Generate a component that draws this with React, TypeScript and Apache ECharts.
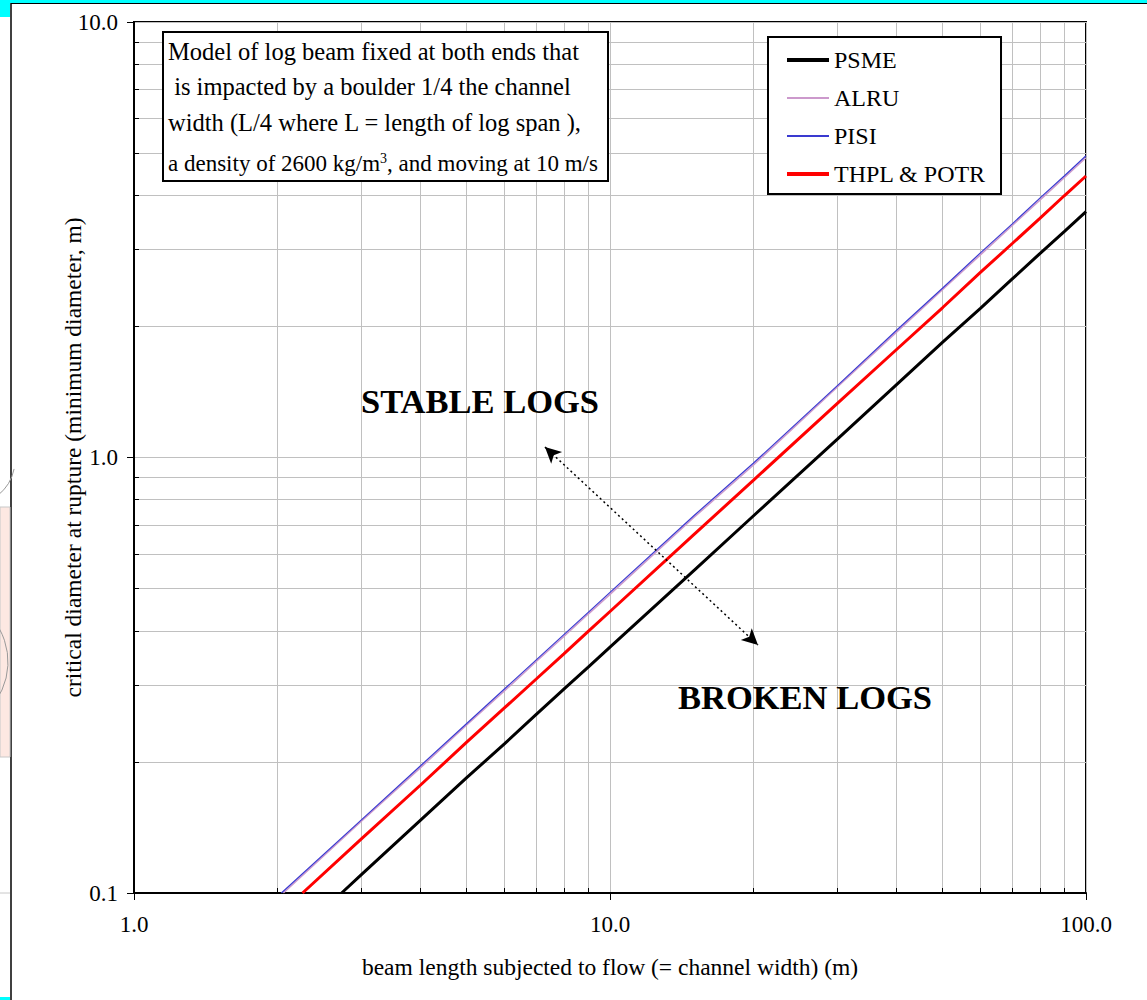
import React, { useEffect, useRef } from "react";
import * as echarts from "echarts";

// ---- data ----
const psmeL = [2.73, 3, 4, 5, 6, 7, 8, 9, 10, 15, 20, 30, 40, 50, 60, 70, 80, 90, 100];
const psmeD = [0.1, 0.11, 0.147, 0.184, 0.22, 0.257, 0.294, 0.33, 0.367, 0.55, 0.734, 1.1, 1.47, 1.84, 2.2, 2.57, 2.94, 3.3, 3.67];

const alruL = [2.06, 3, 4, 5, 6, 7, 8, 9, 10, 15, 20, 30, 40, 50, 60, 70, 80, 90, 100];
const alruD = [0.1, 0.146, 0.194, 0.243, 0.291, 0.34, 0.388, 0.437, 0.485, 0.728, 0.96, 1.45, 1.94, 2.43, 2.92, 3.41, 3.9, 4.39, 4.88];

const pisiL = [2.04, 3, 4, 5, 6, 7, 8, 9, 10, 15, 20, 30, 40, 50, 60, 70, 80, 90, 100];
const pisiD = [0.1, 0.147, 0.196, 0.245, 0.294, 0.343, 0.392, 0.441, 0.49, 0.735, 0.97, 1.46, 1.96, 2.45, 2.95, 3.44, 3.94, 4.43, 4.93];

const thplL = [2.26, 3, 4, 5, 6, 7, 8, 9, 10, 15, 20, 30, 40, 50, 60, 70, 80, 90, 100];
const thplD = [0.1, 0.133, 0.177, 0.222, 0.266, 0.31, 0.354, 0.399, 0.443, 0.665, 0.886, 1.33, 1.77, 2.21, 2.66, 3.1, 3.54, 3.99, 4.43];

const seriesNames = ["PSME", "ALRU", "PISI", "THPL & POTR"];
const seriesColors = ["#000000", "#cc99cc", "#3a3ad0", "#ff0000"];
const seriesWidths = [3, 1.5, 1.2, 3];
const legendWidths = [4, 2, 2, 4];

// arrow between the two region labels (data coordinates)
const arrowStart = [7.3, 1.057];
const arrowEnd = [20.46, 0.371];

const xTitle = "beam length subjected to flow (= channel width) (m)";
const yTitle = "critical diameter at rupture (minimum diameter, m)";
const noteLines = [
  "Model of log beam fixed at both ends that",
  " is impacted by a boulder 1/4 the channel",
  "width (L/4 where L = length of log span ),",
  "a density of 2600 kg/m{sup|3}, and moving at 10 m/s",
];

const FONT = "'Liberation Serif', 'Times New Roman', serif";

function pairs(xs: number[], ys: number[]) {
  return xs.map((x, i) => [x, ys[i]]);
}

export default function App() {
  const ref = useRef<HTMLDivElement>(null);

  useEffect(() => {
    if (!ref.current) return;
    const chart = echarts.init(ref.current, null, { renderer: "svg" });

    const fmt = (v: number) => Number(v).toFixed(1);

    const noteY = [51, 86, 122, 163];
    const noteSize = [24.5, 24.5, 24.5, 23];

    const seriesData = [
      pairs(psmeL, psmeD),
      pairs(alruL, alruD),
      pairs(pisiL, pisiD),
      pairs(thplL, thplD),
    ];

    const series: any[] = seriesNames.map((name, i) => ({
      name,
      type: "line",
      data: seriesData[i],
      symbol: "none",
      lineStyle: { color: seriesColors[i], width: seriesWidths[i] },
      itemStyle: { color: seriesColors[i] },
    }));
    series[3].markLine = {
      silent: true,
      symbol: ["arrow", "arrow"],
      symbolSize: [12, 16],
      label: { show: false },
      lineStyle: { color: "#000", type: [2, 3], width: 1.5 },
      data: [[{ coord: arrowStart }, { coord: arrowEnd }]],
    };

    const option: any = {
      animation: false,
      backgroundColor: "#ffffff",
      textStyle: { fontFamily: FONT },
      grid: {
        left: 134,
        right: 61,
        top: 22,
        bottom: 107,
        show: true,
        borderColor: "#000",
        borderWidth: 2,
        backgroundColor: "#fff",
      },
      legend: {
        data: seriesNames.map((name, i) => ({
          name,
          itemStyle: { opacity: 0 },
          lineStyle: { color: seriesColors[i], width: legendWidths[i] },
        })),
        orient: "vertical",
        left: 768,
        top: 37,
        padding: [11, 15, 8, 17],
        itemGap: 14,
        itemWidth: 42,
        itemHeight: 14,
        backgroundColor: "#fff",
        borderColor: "#000",
        borderWidth: 2,
        borderRadius: 0,
        textStyle: { fontFamily: FONT, fontSize: 24, color: "#000" },
        selectedMode: false,
      },
      xAxis: [
        {
          type: "log",
          logBase: 10,
          min: 1,
          max: 100,
          name: xTitle,
          nameLocation: "middle",
          nameGap: 62,
          nameTextStyle: { fontFamily: FONT, fontSize: 23.5, color: "#000" },
          axisLine: { show: true, lineStyle: { color: "#000", width: 2 } },
          axisTick: { show: true, inside: false, length: 7, lineStyle: { color: "#000", width: 1 } },
          minorTick: { show: false, splitNumber: 9 },
          axisLabel: { formatter: fmt, fontFamily: FONT, fontSize: 23, color: "#000", margin: 20 },
          splitLine: { show: true, lineStyle: { color: "#c0c0c0", width: 1 } },
          minorSplitLine: { show: true, lineStyle: { color: "#c0c0c0", width: 1 } },
        },
        {
          type: "log",
          logBase: 10,
          min: 1,
          max: 100,
          position: "bottom",
          axisLine: { show: false },
          axisTick: { show: false, inside: true },
          minorTick: { show: true, splitNumber: 9, length: 5, lineStyle: { color: "#000", width: 1 } },
          axisLabel: { show: false },
          splitLine: { show: false },
        },
      ],
      yAxis: [
        {
          type: "log",
          logBase: 10,
          min: 0.1,
          max: 10,
          name: yTitle,
          nameLocation: "middle",
          nameGap: 49,
          nameMoveOverlap: false,
          nameRotate: 90,
          nameTextStyle: { fontFamily: FONT, fontSize: 23.5, color: "#000" },
          axisLine: { show: true, lineStyle: { color: "#000", width: 2 } },
          axisTick: { show: true, inside: false, length: 7, lineStyle: { color: "#000", width: 1 } },
          minorTick: { show: false, splitNumber: 9 },
          axisLabel: { formatter: fmt, fontFamily: FONT, fontSize: 23, color: "#000", margin: 16 },
          splitLine: { show: true, lineStyle: { color: "#c0c0c0", width: 1 } },
          minorSplitLine: { show: true, lineStyle: { color: "#c0c0c0", width: 1 } },
        },
        {
          type: "log",
          logBase: 10,
          min: 0.1,
          max: 10,
          position: "left",
          axisLine: { show: false },
          axisTick: { show: false, inside: true },
          minorTick: { show: true, splitNumber: 9, length: 5, lineStyle: { color: "#000", width: 1 } },
          axisLabel: { show: false },
          splitLine: { show: false },
        },
      ],
      series,
      graphic: [
        // page-edge remnants in the reference screenshot
        { type: "rect", shape: { x: 0, y: 0, width: 1147, height: 3 }, style: { fill: "#00ffff" }, z: 100 },
        { type: "rect", shape: { x: 0, y: 0, width: 10, height: 17 }, style: { fill: "#00ffff" }, z: 100 },
        { type: "rect", shape: { x: 0, y: 997, width: 10, height: 3 }, style: { fill: "#00ffff" }, z: 100 },
        { type: "line", shape: { x1: 11, y1: 3.5, x2: 1147, y2: 3.5 }, style: { stroke: "#000", lineWidth: 1 }, z: 100 },
        { type: "line", shape: { x1: 11, y1: 3, x2: 11, y2: 1000 }, style: { stroke: "#000", lineWidth: 1.5 }, z: 100 },
        { type: "rect", shape: { x: 0, y: 507, width: 10, height: 250 }, style: { fill: "#fde8e2", stroke: "#c8c8c8", lineWidth: 1 }, z: 100 },
        { type: "line", shape: { x1: 0, y1: 893, x2: 10, y2: 893 }, style: { stroke: "#c8c8c8", lineWidth: 1 }, z: 100 },
        { type: "arc", shape: { cx: -30, cy: 460, r: 45, startAngle: 0.2, endAngle: 0.9 }, style: { stroke: "#999", lineWidth: 1, fill: "none" }, z: 100 },
        { type: "arc", shape: { cx: -60, cy: 662, r: 68, startAngle: -0.7, endAngle: 0.8 }, style: { stroke: "#999", lineWidth: 1, fill: "none" }, z: 100 },
        // note box
        { type: "rect", shape: { x: 163, y: 32, width: 445, height: 149 }, style: { fill: "#fff", stroke: "#000", lineWidth: 2 }, z: 50 },
        ...noteLines.map((t, i) => ({
          type: "text",
          x: 168,
          y: noteY[i],
          z: 51,
          style: {
            text: t,
            fontFamily: FONT,
            fontSize: noteSize[i],
            fill: "#000",
            verticalAlign: "middle",
            rich: { sup: { fontFamily: FONT, fontSize: 14, verticalAlign: "top", fill: "#000" } },
          },
        })),
        {
          type: "text",
          x: 480,
          y: 401,
          z: 51,
          style: { text: "STABLE LOGS", fontFamily: FONT, fontSize: 34.5, fontWeight: "bold", fill: "#000", align: "center", verticalAlign: "middle" },
        },
        {
          type: "text",
          x: 805,
          y: 697,
          z: 51,
          style: { text: "BROKEN LOGS", fontFamily: FONT, fontSize: 34.5, fontWeight: "bold", fill: "#000", align: "center", verticalAlign: "middle" },
        },
      ],
    };

    chart.setOption(option);
    return () => chart.dispose();
  }, []);

  return (
    <div
      ref={ref}
      style={{ position: "absolute", left: 0, top: 0, width: 1147, height: 1000, background: "#fff" }}
    />
  );
}
